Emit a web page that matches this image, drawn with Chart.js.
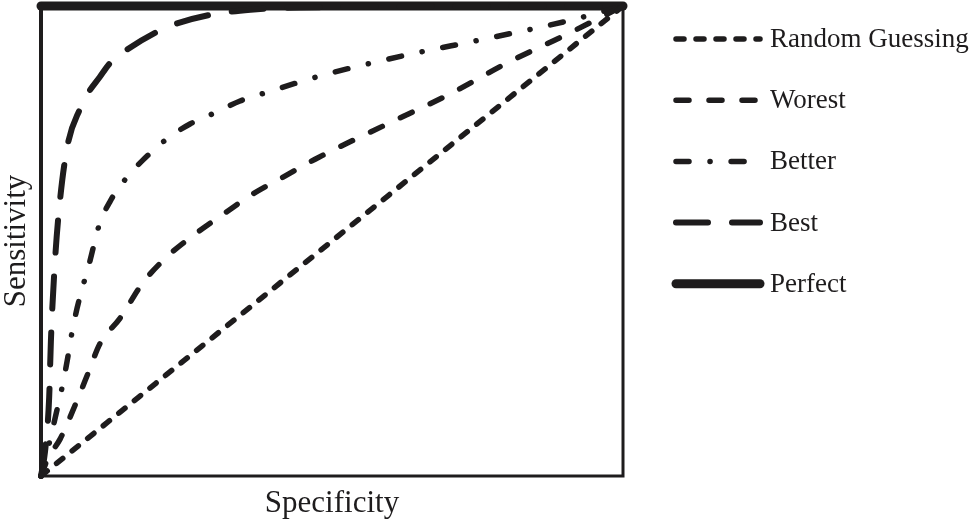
<!DOCTYPE html>
<html>
<head>
<meta charset="utf-8">
<script src="https://cdn.jsdelivr.net/npm/chart.js@4/dist/chart.umd.min.js"></script>
<style>
  html, body { margin: 0; padding: 0; background: #fff; }
  #wrap { width: 969px; height: 523px; }
</style>
</head>
<body>
<div id="wrap"><canvas id="roc"></canvas></div>
<script>
// Подписи серий и осей
var seriesNames = ['Random Guessing', 'Worest', 'Better', 'Best', 'Perfect'];
var xTitle = 'Specificity';
var yTitle = 'Sensitivity';

// Значения кривых (доли от 0 до 1)
var randomX = [0, 1];
var randomY = [0, 1];

var worestX = [0, 0.012, 0.033, 0.058, 0.081, 0.101, 0.136, 0.175, 0.216, 0.265, 0.313, 0.364, 0.416, 0.471, 0.595, 0.703, 0.801, 0.909, 1];
var worestY = [0, 0.038, 0.079, 0.149, 0.219, 0.281, 0.336, 0.411, 0.466, 0.515, 0.557, 0.600, 0.636, 0.674, 0.749, 0.813, 0.879, 0.943, 1];

var betterX = [0, 0.015, 0.027, 0.036, 0.045, 0.053, 0.062, 0.084, 0.100, 0.119, 0.148, 0.175, 0.216, 0.256, 0.301, 0.342, 0.390, 0.479, 0.622, 0.763, 0.904, 1];
var betterY = [0, 0.074, 0.138, 0.187, 0.245, 0.304, 0.357, 0.457, 0.534, 0.585, 0.636, 0.672, 0.717, 0.749, 0.774, 0.798, 0.817, 0.851, 0.894, 0.930, 0.968, 1];

var bestX = [0, 0.007, 0.014, 0.017, 0.024, 0.033, 0.046, 0.067, 0.081, 0.101, 0.119, 0.144, 0.196, 0.227, 0.290, 0.360, 0.445, 1];
var bestY = [0, 0.053, 0.166, 0.287, 0.457, 0.591, 0.706, 0.781, 0.815, 0.849, 0.879, 0.904, 0.943, 0.960, 0.981, 0.992, 0.997, 1];

var perfectX = [0, 1];
var perfectY = [1, 1];

function toPoints(xs, ys) {
    var pts = [];
    for (var i = 0; i < xs.length; i++) {
        pts.push({ x: xs[i], y: ys[i] });
    }
    return pts;
}

var ink = '#1e1c1d';
var serif = "'Liberation Serif', 'Times New Roman', serif";

// Рамка вокруг области графика
var framePlugin = {
    id: 'frame',
    beforeDatasetsDraw: function(chart) {
        var a = chart.chartArea;
        var ctx = chart.ctx;
        ctx.save();
        ctx.strokeStyle = ink;
        ctx.lineWidth = 3;
        ctx.strokeRect(a.left, a.top, a.right - a.left, a.bottom - a.top);
        ctx.lineWidth = 4;
        ctx.beginPath();
        ctx.moveTo(a.left, a.top);
        ctx.lineTo(a.left, a.bottom);
        ctx.stroke();
        ctx.restore();
    }
};

// Легенда справа, рисуем сами по стилям наборов
var legendPlugin = {
    id: 'sideLegend',
    afterDraw: function(chart) {
        var ctx = chart.ctx;
        var sets = chart.data.datasets;
        ctx.save();
        for (var i = 0; i < sets.length; i++) {
            var ds = sets[i];
            var y = 39 + i * 61.2;
            ctx.strokeStyle = ink;
            ctx.lineWidth = ds.borderWidth;
            ctx.lineCap = ds.borderCapStyle || 'butt';
            ctx.setLineDash(ds.borderDash || []);
            ctx.beginPath();
            ctx.moveTo(676, y);
            ctx.lineTo(760, y);
            ctx.stroke();
            ctx.setLineDash([]);
            ctx.fillStyle = ink;
            ctx.font = '27px ' + serif;
            ctx.textBaseline = 'middle';
            ctx.textAlign = 'left';
            ctx.fillText(ds.label, 770, y + 1);
        }
        ctx.restore();
    }
};

document.addEventListener('DOMContentLoaded', function() {
    var canvas = document.getElementById('roc');

    var data = {
        datasets: [
            {
                label: seriesNames[0],
                data: toPoints(randomX, randomY),
                borderColor: ink,
                borderWidth: 5.5,
                borderDash: [8, 12],
                borderCapStyle: 'round'
            },
            {
                label: seriesNames[1],
                data: toPoints(worestX, worestY),
                borderColor: ink,
                borderWidth: 5.5,
                borderDash: [13, 20],
                borderCapStyle: 'round'
            },
            {
                label: seriesNames[2],
                data: toPoints(betterX, betterY),
                borderColor: ink,
                borderWidth: 5.5,
                borderDash: [13, 21, 0.1, 21],
                borderCapStyle: 'round'
            },
            {
                label: seriesNames[3],
                data: toPoints(bestX, bestY),
                borderColor: ink,
                borderWidth: 6,
                borderDash: [32, 24],
                borderCapStyle: 'round'
            },
            {
                label: seriesNames[4],
                data: toPoints(perfectX, perfectY),
                borderColor: ink,
                borderWidth: 9,
                borderCapStyle: 'round'
            }
        ]
    };

    var options = {
        responsive: true,
        maintainAspectRatio: false,
        animation: false,
        layout: { padding: { top: 6, right: 346, left: 0, bottom: 0 } },
        elements: {
            point: { radius: 0, hoverRadius: 0 },
            line: { tension: 0, cubicInterpolationMode: 'monotone', fill: false }
        },
        datasets: { line: { clip: false } },
        plugins: {
            legend: { display: false },
            tooltip: { enabled: false }
        },
        scales: {
            x: {
                type: 'linear',
                min: 0,
                max: 1,
                grid: { display: false },
                border: { display: false },
                ticks: { display: false },
                title: {
                    display: true,
                    text: xTitle,
                    color: ink,
                    font: { family: serif, size: 31, lineHeight: 1 },
                    padding: { top: 4, bottom: 4 }
                }
            },
            y: {
                type: 'linear',
                min: 0,
                max: 1,
                grid: { display: false },
                border: { display: false },
                ticks: { display: false },
                title: {
                    display: true,
                    text: yTitle,
                    color: ink,
                    font: { family: serif, size: 31, lineHeight: 1 },
                    padding: { top: 1, bottom: 1 }
                }
            }
        }
    };

    new Chart(canvas, {
        type: 'line',
        data: data,
        options: options,
        plugins: [framePlugin, legendPlugin]
    });
});
</script>
</body>
</html>
